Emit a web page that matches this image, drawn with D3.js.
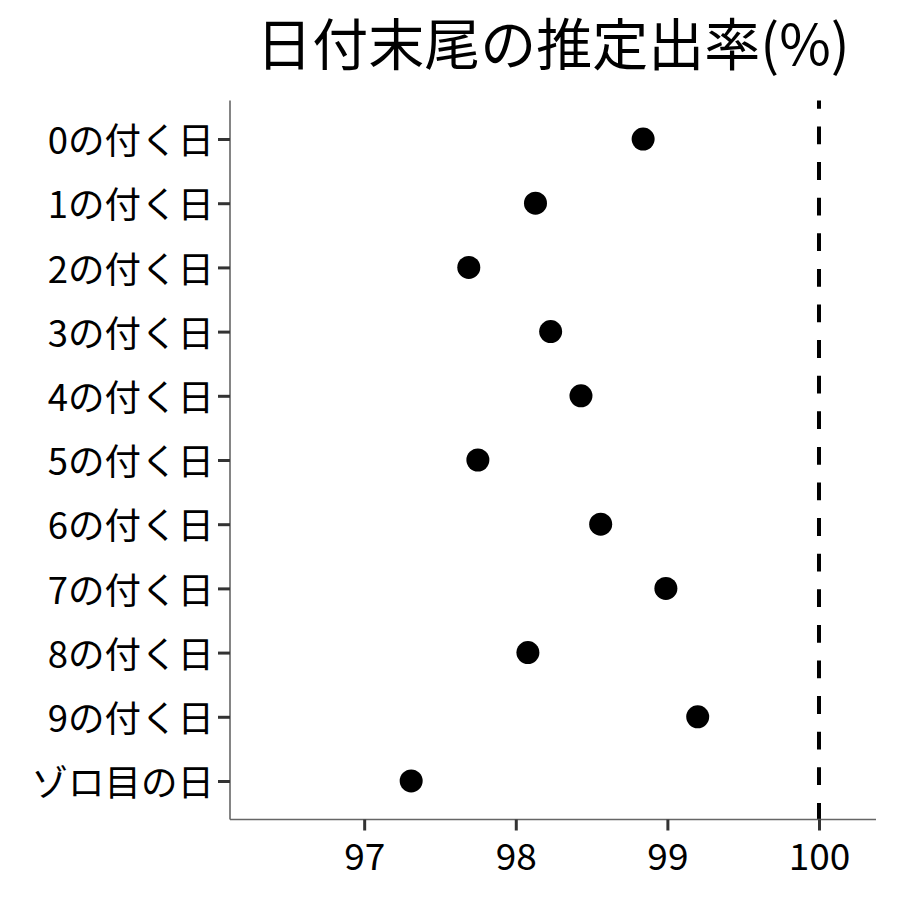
<!DOCTYPE html>
<html>
<head>
<meta charset="utf-8">
<script src="https://cdn.jsdelivr.net/npm/d3@7"></script>
<style>
    body { margin: 0; background: #fff; }
    svg text { font-family: "Noto Sans CJK JP", "Noto Sans", sans-serif; }
</style>
</head>
<body>
<svg id="chart" width="900" height="900"></svg>
<script>
const categories = [
    "0の付く日", "1の付く日", "2の付く日", "3の付く日", "4の付く日",
    "5の付く日", "6の付く日", "7の付く日", "8の付く日", "9の付く日", "ゾロ目の日"
];
const rates = [98.84, 98.13, 97.69, 98.23, 98.43, 97.75, 98.56, 98.99, 98.08, 99.20, 97.31];
const xTicks = [97, 98, 99, 100];
const refLine = 100;
const titleText = "日付末尾の推定出率(%)";

const svg = d3.select("#chart");

const panel = { left: 230, right: 876, top: 100.5, bottom: 819.5 };

const x = d3.scaleLinear()
    .domain([96.115, 100.376])
    .range([panel.left, panel.right]);

// discrete axis with 0.6 expansion like ggplot
const y = d3.scaleLinear()
    .domain([0.4, categories.length + 0.6])
    .range([panel.top, panel.bottom]);

svg.append("text")
    .attr("x", (panel.left + panel.right) / 2)
    .attr("y", 64.5)
    .attr("text-anchor", "middle")
    .attr("font-size", 56)
    .attr("fill", "#000")
    .text(titleText);

// reference line
svg.append("line")
    .attr("x1", x(refLine))
    .attr("x2", x(refLine))
    .attr("y1", panel.top)
    .attr("y2", panel.bottom)
    .attr("stroke", "#000")
    .attr("stroke-width", 4)
    .attr("stroke-dasharray", "17.8,17.8")
    .attr("stroke-dashoffset", 9.6);

// points
svg.append("g")
    .selectAll("circle")
    .data(rates)
    .join("circle")
    .attr("cx", d => x(d))
    .attr("cy", (d, i) => y(i + 1))
    .attr("r", 11.5)
    .attr("fill", "#000");

// axes
const xAxis = svg.append("g")
    .attr("transform", "translate(0," + panel.bottom + ")")
    .call(d3.axisBottom(x).tickValues(xTicks).tickSize(11).tickPadding(13).tickFormat(d3.format("d")));

const yAxis = svg.append("g")
    .attr("transform", "translate(" + panel.left + ",0)")
    .call(d3.axisLeft(y).tickValues(d3.range(1, categories.length + 1)).tickSize(12).tickPadding(4)
        .tickFormat(d => categories[d - 1]));

[xAxis, yAxis].forEach(function(axis) {
    axis.select(".domain")
        .attr("stroke", "#666")
        .attr("stroke-width", 1.6);
    axis.selectAll(".tick line")
        .attr("stroke", "#333")
        .attr("stroke-width", 3);
    axis.selectAll(".tick text")
        .attr("fill", "#000")
        .attr("font-size", 37)
        .attr("font-family", "Noto Sans CJK JP");
});
yAxis.selectAll(".tick text").attr("font-size", 36.5);

xAxis.select(".domain").attr("d", "M" + panel.left + ",0H" + panel.right);
yAxis.select(".domain").attr("d", "M0," + panel.top + "V" + panel.bottom);
yAxis.selectAll(".tick text").attr("dy", "0.40em");
</script>
</body>
</html>
